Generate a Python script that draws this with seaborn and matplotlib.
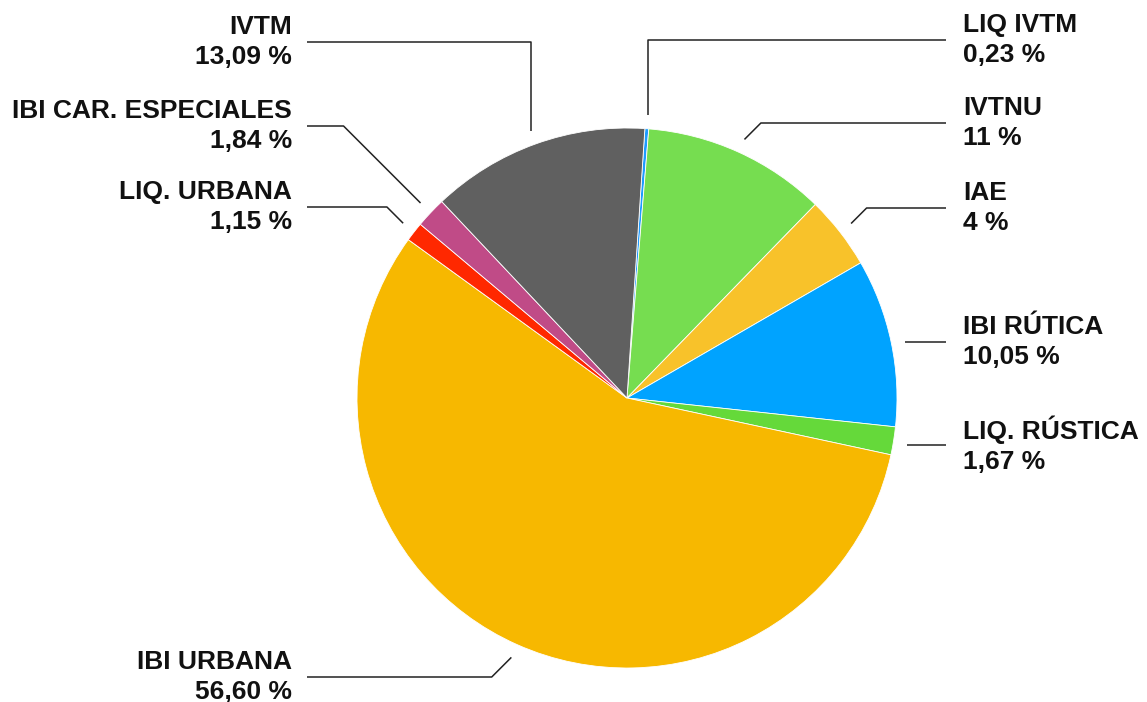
import numpy as np
import matplotlib
matplotlib.use("Agg")
import matplotlib.pyplot as plt
import seaborn as sns

# Data (IAE slice; its label is rounded to "4 %")
categories = ["LIQ IVTM", "IVTNU", "IAE", "IBI RÚTICA", "LIQ. RÚSTICA",
              "IBI URBANA", "LIQ. URBANA", "IBI CAR. ESPECIALES", "IVTM"]
values = [0.23, 11, 4.37, 10.05, 1.67, 56.60, 1.15, 1.84, 13.09]
value_labels = ["0,23 %", "11 %", "4 %", "10,05 %", "1,67 %",
                "56,60 %", "1,15 %", "1,84 %", "13,09 %"]
colors = ["#1e9bff", "#76dd50", "#f8c22a", "#00a3ff", "#65d93a",
          "#f7b800", "#ff2800", "#c04b87", "#606060"]

# Label layout (pixels from top) and connector style
# 0 = vertical then horizontal, 1 = 45 deg elbow, 2 = straight horizontal
label_y_px = [40, 123, 208, 342, 445, 677, 207, 126, 42]
elbow = [0, 1, 1, 2, 2, 1, 1, 1, 0]

W, H = 1147, 702
cx, cy, radius = 627, H - 398, 270

sns.set_theme(style="white")
plt.rcParams['font.family'] = ['Liberation Sans', 'DejaVu Sans']

fig = plt.figure(figsize=(W / 100, H / 100), dpi=100)
ax = fig.add_axes([0, 0, 1, 1])

wedges, _ = ax.pie(values, colors=colors, radius=radius, center=(cx, cy),
                   startangle=86.2, counterclock=False,
                   wedgeprops=dict(linewidth=0.6, edgecolor="white"))

ax.set_xlim(0, W)
ax.set_ylim(0, H)
ax.set_aspect("equal")
ax.axis("off")

# Leader lines and labels
for i, w in enumerate(wedges):
    theta = np.deg2rad((w.theta1 + w.theta2) / 2)
    r_out = radius + 14
    px = cx + r_out * np.cos(theta)
    py = cy + r_out * np.sin(theta)
    right = np.cos(theta) > 0
    sign = 1 if right else -1
    ly = H - label_y_px[i]
    end_x = 946 if right else 307
    if elbow[i] == 2:
        xs, ys = [px, end_x], [ly, ly]
    else:
        ex = px + sign * elbow[i] * abs(ly - py)
        xs, ys = [px, ex, end_x], [py, ly, ly]
    ax.plot(xs, ys, color="#222222", lw=1.1, solid_capstyle="butt")
    txt = f"{categories[i]}\n{value_labels[i]}"
    if right:
        ax.text(963, ly, txt, ha="left", va="center", multialignment="left",
                fontsize=19, fontweight="bold", linespacing=1.3, color="#111111")
    else:
        ax.text(292, ly, txt, ha="right", va="center", multialignment="right",
                fontsize=19, fontweight="bold", linespacing=1.3, color="#111111")

fig.savefig("out.png", dpi=100)
